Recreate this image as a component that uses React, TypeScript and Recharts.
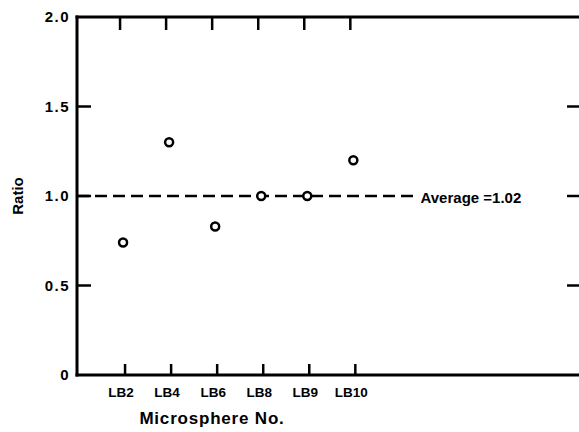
import { ScatterChart, Scatter, XAxis, YAxis, ReferenceLine } from 'recharts';

const categories = ['LB2', 'LB4', 'LB6', 'LB8', 'LB9', 'LB10'];
const ratios = [0.74, 1.3, 0.83, 1.0, 1.0, 1.2];
const xPositions = [1, 2, 3, 4, 5, 6];
const yTicks = [0, 0.5, 1, 1.5, 2];
const averageLevel = 1.0;
const averageLabel = 'Average =1.02';

const data = categories.map((name, i) => ({ name, x: xPositions[i], y: ratios[i] }));

// chart frame
const W = 579;
const H = 432;
const TOP = 17;
const Y_AXIS_W = 77;
const X_AXIS_H = 57;
const BOTTOM = H - X_AXIS_H;

const FONT = '"Liberation Sans", Arial, sans-serif';
const axisLine = { stroke: '#000', strokeWidth: 3, strokeLinecap: 'square' as const };

// ticks in the original point into the plot (top+bottom, left+right), drawn by hand
const BottomTick = (props: any) => {
  const { x, payload } = props;
  return (
    <g>
      <line x1={x + 2} y1={BOTTOM} x2={x + 2} y2={BOTTOM - 11} stroke="#000" strokeWidth={2.5} />
      <line x1={x - 3} y1={TOP} x2={x - 3} y2={TOP + 13} stroke="#000" strokeWidth={2.5} />
      <text x={x - 2} y={BOTTOM + 22} textAnchor="middle" fontFamily={FONT} fontWeight="bold" fontSize={13.5} fill="#000">
        {categories[payload.value - 1]}
      </text>
    </g>
  );
};

const LeftTick = (props: any) => {
  const { y, payload } = props;
  const v = payload.value;
  const inner = v > 0 && v < 2;
  return (
    <g>
      {inner && <line x1={Y_AXIS_W} y1={y} x2={Y_AXIS_W + 14} y2={y} stroke="#000" strokeWidth={2.5} />}
      {inner && <line x1={W - 12} y1={y} x2={W} y2={y} stroke="#000" strokeWidth={2.5} />}
      <text
        x={Y_AXIS_W - 7}
        y={y + 5}
        textAnchor="end"
        fontFamily={FONT}
        fontWeight="bold"
        fontSize={15}
        letterSpacing={1.5}
        fill="#000"
      >
        {v === 0 ? '0' : v.toFixed(1)}
      </text>
    </g>
  );
};

const OpenCircle = (props: any) => {
  const { cx, cy } = props;
  return <circle cx={cx} cy={cy} r={4} fill="#fff" stroke="#000" strokeWidth={2.5} />;
};

export default function App() {
  return (
    <div style={{ position: 'absolute', left: 0, top: 0, background: '#fff' }}>
      <ScatterChart width={W} height={H} margin={{ top: TOP - 1, right: 0, bottom: 0, left: 0 }}>
        <XAxis
          xAxisId="bottom"
          type="number"
          dataKey="x"
          domain={[0, 10.9]}
          ticks={xPositions}
          height={X_AXIS_H}
          axisLine={axisLine}
          tickLine={false}
          tick={BottomTick}
          label={{
            value: 'Microsphere No.',
            position: 'insideBottom',
            dx: -116,
            dy: -3,
            fontFamily: FONT,
            fontWeight: 'bold',
            fontSize: 17,
            letterSpacing: 0.8,
            fill: '#000',
          }}
        />
        <XAxis
          xAxisId="top"
          orientation="top"
          type="number"
          domain={[0, 10.9]}
          height={1}
          axisLine={axisLine}
          tickLine={false}
          tick={false}
        />
        <YAxis
          yAxisId="left"
          type="number"
          dataKey="y"
          domain={[0, 2]}
          ticks={yTicks}
          width={Y_AXIS_W}
          axisLine={axisLine}
          tickLine={false}
          tick={LeftTick}
          label={{
            value: 'Ratio',
            angle: -90,
            position: 'insideLeft',
            textAnchor: 'middle',
            dx: 13,
            fontFamily: FONT,
            fontWeight: 'bold',
            fontSize: 15,
            fill: '#000',
          }}
        />
        <ReferenceLine
          xAxisId="bottom"
          yAxisId="left"
          segment={[
            { x: 0, y: averageLevel },
            { x: 7.35, y: averageLevel },
          ]}
          stroke="#000"
          strokeWidth={2.5}
          strokeDasharray="12 6"
          label={{
            value: averageLabel,
            position: 'right',
            offset: 5,
            dy: 2,
            fontFamily: FONT,
            fontWeight: 'bold',
            fontSize: 15,
            fill: '#000',
          }}
        />
        <Scatter
          xAxisId="bottom"
          yAxisId="left"
          data={data}
          shape={OpenCircle}
          isAnimationActive={false}
        />
      </ScatterChart>
    </div>
  );
}
